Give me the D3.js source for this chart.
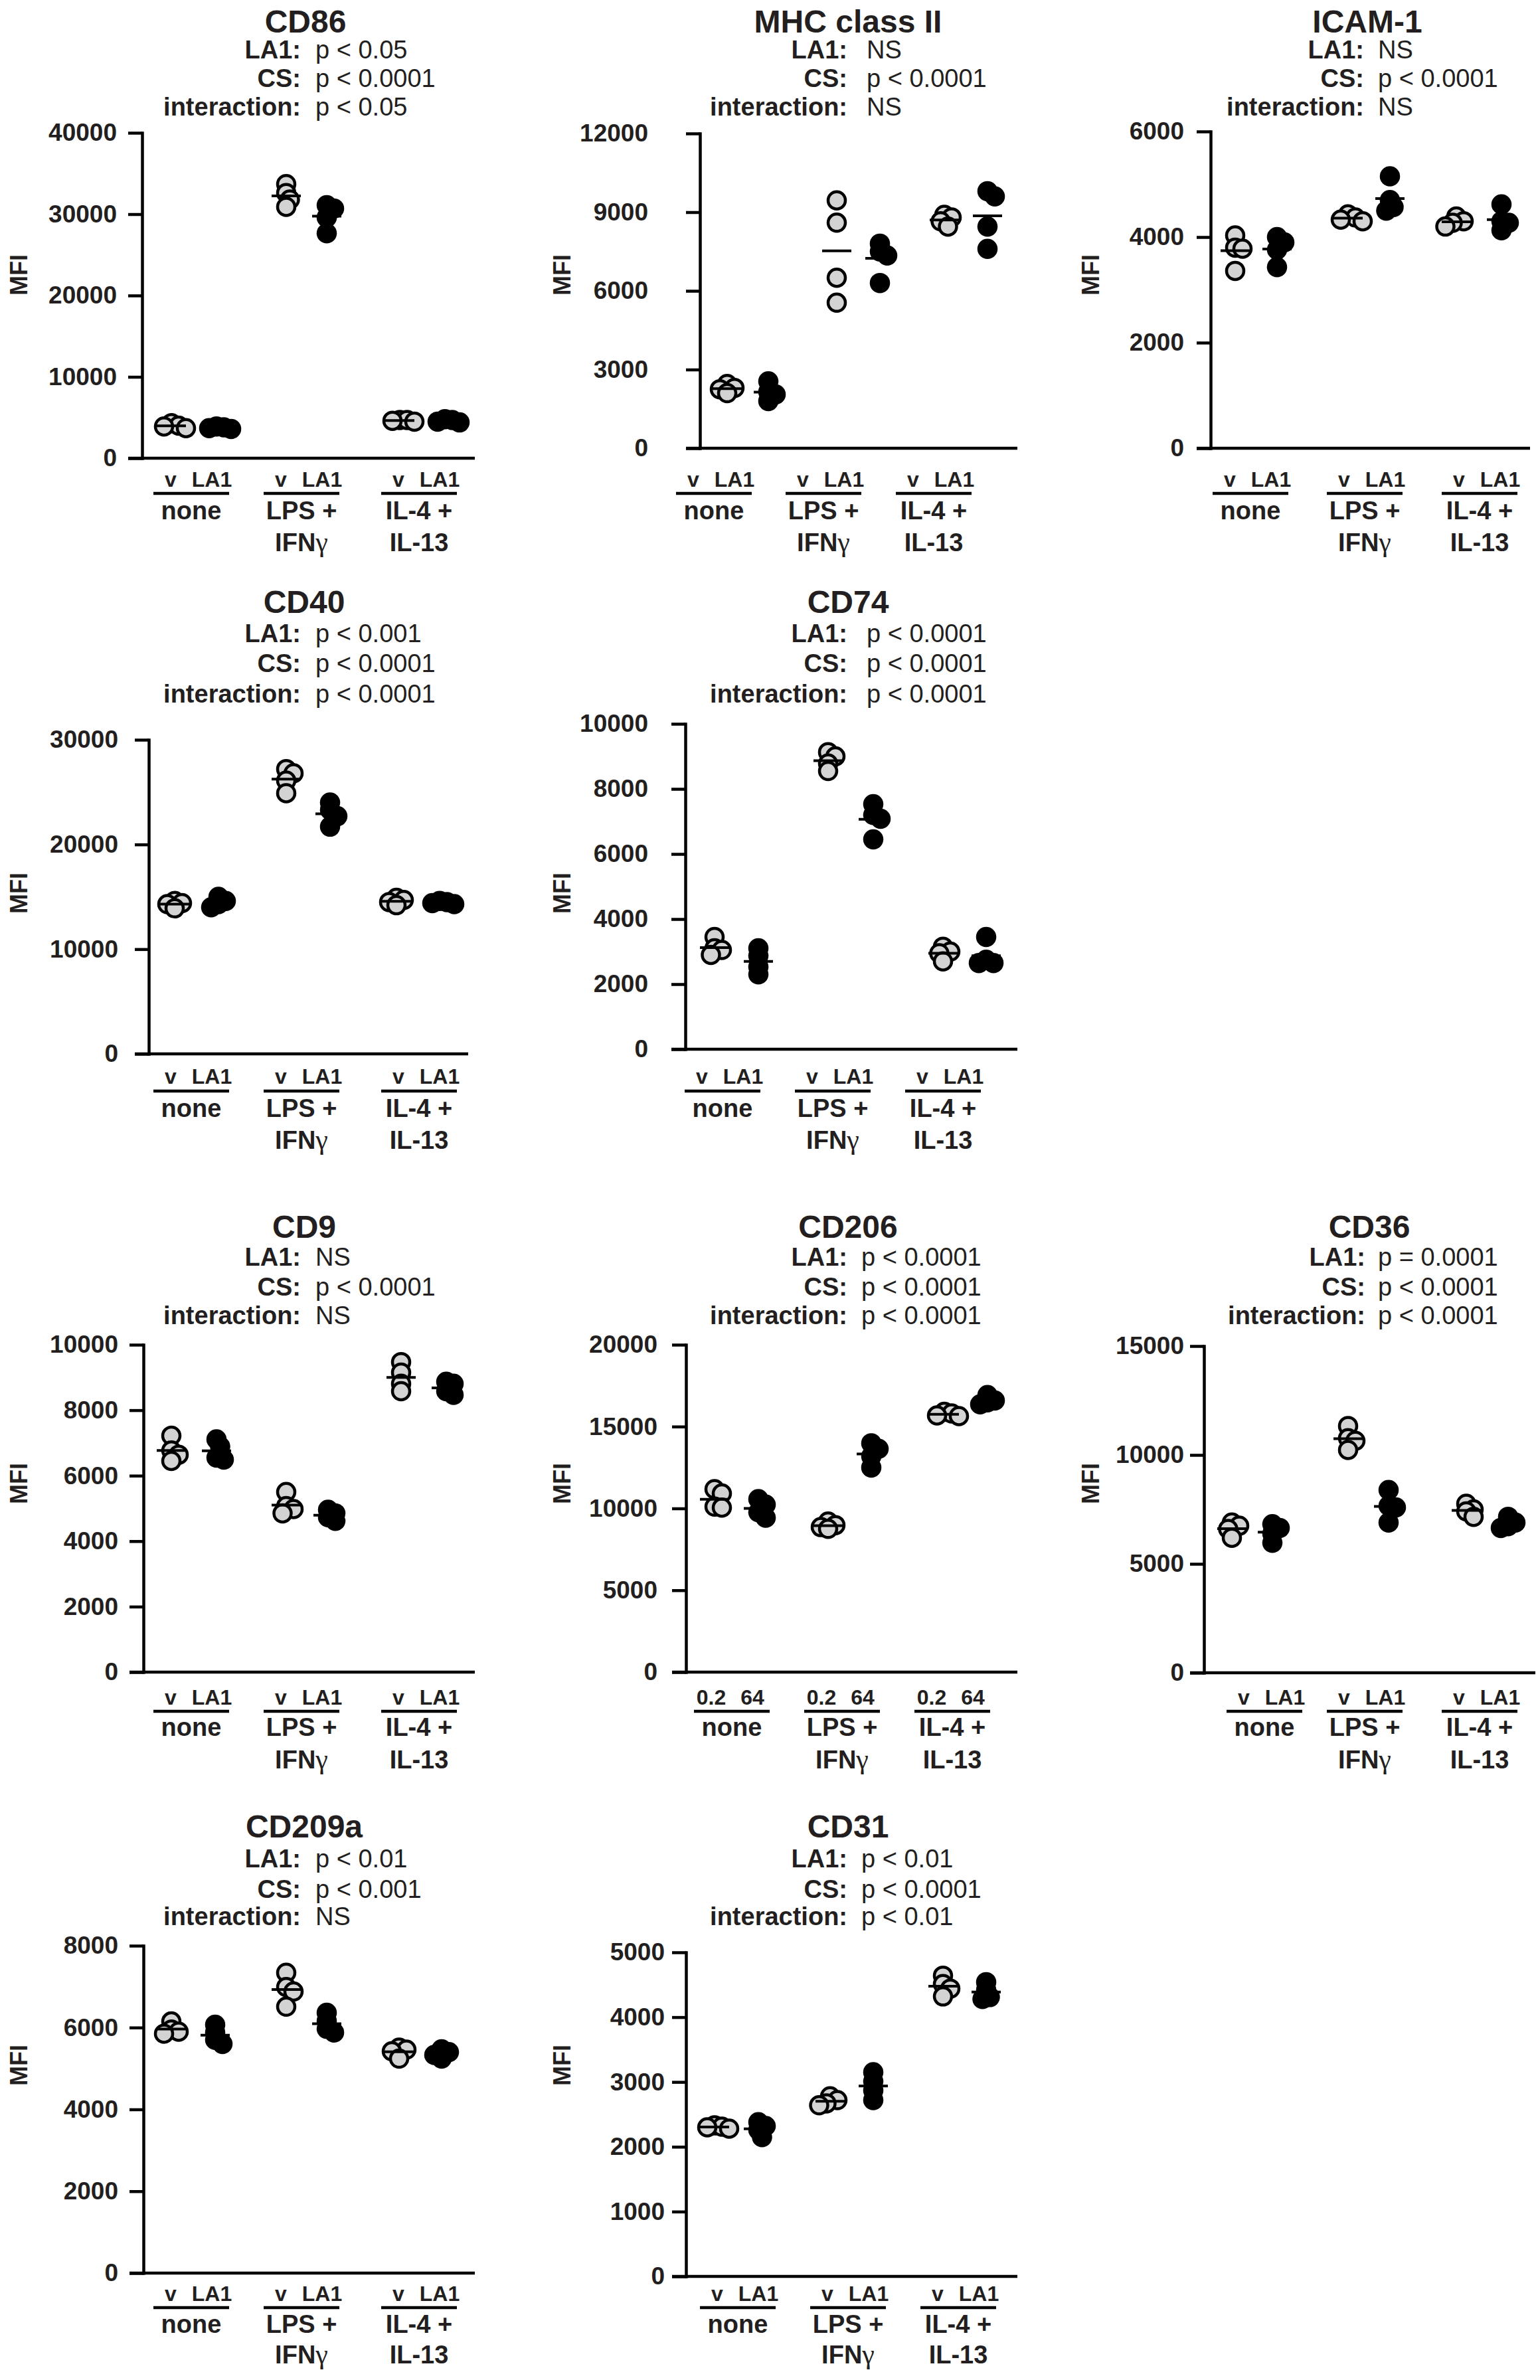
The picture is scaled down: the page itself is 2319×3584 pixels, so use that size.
<!DOCTYPE html>
<html><head><meta charset="utf-8">
<script src="https://cdn.jsdelivr.net/npm/d3@7"></script>
<style>
body{margin:0;background:#fff}
svg text{font-family:"Liberation Sans",Arial,Helvetica,sans-serif;fill:#231f20}
</style>
</head><body>
<svg id="chart" width="2319" height="3584"></svg>
<script>
// ---------------- DATA ----------------
const markers = ["CD86","MHC class II","ICAM-1","CD40","CD74","CD9","CD206","CD36","CD209a","CD31"];
const conditionLabels = [["none"],["LPS +","IFN","γ"],["IL-4 +","IL-13"]];
const treatmentLabels = ["v","LA1"];
const treatmentLabelsCD206 = ["0.2","64"];

const la1P   = ["p < 0.05","NS","NS","p < 0.001","p < 0.0001","NS","p < 0.0001","p = 0.0001","p < 0.01","p < 0.01"];
const csP    = ["p < 0.0001","p < 0.0001","p < 0.0001","p < 0.0001","p < 0.0001","p < 0.0001","p < 0.0001","p < 0.0001","p < 0.001","p < 0.0001"];
const interP = ["p < 0.05","NS","NS","p < 0.0001","p < 0.0001","NS","p < 0.0001","p < 0.0001","NS","p < 0.01"];

// each array: [none, LPS + IFNγ, IL-4 + IL-13], four replicates each
const cd86Vehicle  = [[3700,4300,4000,3900],[30900,31800,32600,33700],[4500,4600,4700,4700]];
const cd86LA1      = [[3600,3700,3800,3900],[27650,29600,30700,31100],[4400,4500,4700,4800]];
const mhcVehicle   = [[2100,2250,2300,2450],[5550,6500,8600,9450],[8450,8650,8800,8900]];
const mhcLA1       = [[1800,2050,2150,2550],[6300,7350,7500,7800],[7600,8450,9600,9800]];
const icamVehicle  = [[3360,3780,3800,4030],[4300,4330,4370,4430],[4200,4270,4300,4390]];
const icamLA1      = [[3430,3760,3900,4000],[4500,4570,4700,5150],[4130,4270,4300,4620]];
const cd40Vehicle  = [[13900,14300,14400,14600],[24900,26100,26800,27200],[14200,14500,14700,14900]];
const cd40LA1      = [[14000,14300,14600,15000],[21700,22700,23300,24000],[14300,14400,14500,14600]];
const cd74Vehicle  = [[2900,3050,3100,3450],[8550,8780,9000,9130],[2700,2950,3000,3150]];
const cd74LA1      = [[2300,2530,2870,3100],[6450,7080,7200,7530],[2650,2650,2750,3450]];
const cd9Vehicle   = [[6450,6640,6770,7220],[4850,4980,5070,5500],[8580,8810,9150,9470]];
const cd9LA1       = [[6490,6550,6890,7110],[4620,4730,4850,4960],[8470,8580,8810,8870]];
const cd206Low     = [[10050,10110,10910,11180],[8750,8860,8980,9200],[15640,15680,15800,15900]];
const cd206High    = [[9430,9770,10230,10570],[12500,13180,13640,13980],[16360,16480,16590,16930]];
const cd36Vehicle  = [[6200,6600,6750,6900],[10230,10650,10770,11330],[7160,7410,7500,7760]];
const cd36LA1      = [[5970,6390,6650,6820],[6900,7590,7670,8390],[6650,6730,6900,7160]];
const cd209Vehicle = [[5850,5900,5950,6150],[6510,6880,6990,7340],[5240,5420,5460,5510]];
const cd209LA1     = [[5600,5700,5880,6070],[5880,5970,6160,6360],[5240,5330,5400,5470]];
const cd31Vehicle  = [[2280,2300,2310,2330],[2640,2670,2720,2780],[4320,4440,4510,4640]];
const cd31LA1      = [[2150,2260,2320,2380],[2720,2870,3010,3150],[4280,4310,4420,4540]];

const ticksCD86  = [0,10000,20000,30000,40000];
const ticksMHC   = [0,3000,6000,9000,12000];
const ticksICAM  = [0,2000,4000,6000];
const ticksCD40  = [0,10000,20000,30000];
const ticksCD74  = [0,2000,4000,6000,8000,10000];
const ticksCD9   = [0,2000,4000,6000,8000,10000];
const ticksCD206 = [0,5000,10000,15000,20000];
const ticksCD36  = [0,5000,10000,15000];
const ticksCD209 = [0,2000,4000,6000,8000];
const ticksCD31  = [0,1000,2000,3000,4000,5000];

const greyData  = [cd86Vehicle,mhcVehicle,icamVehicle,cd40Vehicle,cd74Vehicle,cd9Vehicle,cd206Low,cd36Vehicle,cd209Vehicle,cd31Vehicle];
const blackData = [cd86LA1,mhcLA1,icamLA1,cd40LA1,cd74LA1,cd9LA1,cd206High,cd36LA1,cd209LA1,cd31LA1];
const tickSets  = [ticksCD86,ticksMHC,ticksICAM,ticksCD40,ticksCD74,ticksCD9,ticksCD206,ticksCD36,ticksCD209,ticksCD31];

// ---------------- LAYOUT ----------------
const rows = [
  {titleY:49,  statY:[88,131,174],    mfiY:414,  labY:[733,743,782,830]},
  {titleY:923, statY:[967,1012,1058], mfiY:1345, labY:[1632,1643,1682,1730]},
  {titleY:1864,statY:[1906,1951,1994],mfiY:2234, labY:[2567,2577,2614,2663]},
  {titleY:2767,statY:[2812,2858,2899],mfiY:3110, labY:[3465,3475,3513,3559]}
];
const layout = [
  {row:0, ax:214, xEnd:715, top:200, zero:690, cols:[258,326,431,492,602,670], groups:[288,454,631], pad:38, titleX:460, colonX:453, valX:475, mfiX:29},
  {row:0, ax:1054,xEnd:1532,top:201, zero:675, cols:[1095,1157,1260,1325,1422,1487], groups:[1075,1240,1406], pad:78, titleX:1277, colonX:1276, valX:1305, mfiX:847},
  {row:0, ax:1823,xEnd:2304,top:198, zero:675, cols:[1860,1923,2030,2093,2193,2261], groups:[1883,2055,2228], pad:40, titleX:2059, colonX:2054, valX:2075, mfiX:1643},
  {row:1, ax:224, xEnd:705, top:1114,zero:1587,cols:[263,329,431,497,597,662], groups:[288,454,631], pad:46, titleX:458, colonX:453, valX:475, mfiX:29},
  {row:1, ax:1032,xEnd:1532,top:1090,zero:1580,cols:[1076,1142,1247,1315,1420,1485], groups:[1088,1254,1420], pad:56, titleX:1277, colonX:1276, valX:1305, mfiX:847},
  {row:2, ax:216, xEnd:715, top:2025,zero:2518,cols:[258,326,431,494,604,672], groups:[288,454,631], pad:38, titleX:458, colonX:453, valX:475, mfiX:29},
  {row:2, ax:1033,xEnd:1532,top:2025,zero:2518,cols:[1076,1142,1247,1312,1422,1487], groups:[1102,1268,1434], pad:43, titleX:1277, colonX:1276, valX:1297, mfiX:847},
  {row:2, ax:1813,xEnd:2312,top:2027,zero:2519,cols:[1855,1916,2030,2091,2208,2271], groups:[1904,2055,2228], pad:30, titleX:2062, colonX:2056, valX:2075, mfiX:1643},
  {row:3, ax:216, xEnd:715, top:2930,zero:3423,cols:[258,324,431,492,601,665], groups:[288,454,631], pad:38, titleX:458, colonX:453, valX:475, mfiX:29},
  {row:3, ax:1033,xEnd:1532,top:2940,zero:3428,cols:[1076,1142,1250,1315,1420,1485], groups:[1111,1277,1443], pad:32, titleX:1277, colonX:1276, valX:1297, mfiX:847}
];

const R = 13, SW = 4.5, INK = "#000";
const svg = d3.select("#chart");
svg.append("rect").attr("width",2319).attr("height",3584).attr("fill","#fff");

function swarm(vals, cx, y){
  const minD = 11, step = 5.5;
  const pts = vals.map(v=>({v, py:y(v)})).sort((a,b)=>a.py-b.py);
  const placed = [];
  for (const p of pts){
    for (const k of [0,1,-1,2,-2,3,-3,4,-4,5,-5]){
      const px = cx + k*step;
      if (placed.every(q=>Math.hypot(q.px-px, q.py-p.py) >= minD)){ p.px = px; break; }
    }
    if (p.px === undefined) p.px = cx;
    placed.push(p);
  }
  return placed;
}

markers.forEach((name, i)=>{
  const L = layout[i], RW = rows[L.row];
  const g = svg.append("g");
  const ticks = tickSets[i];
  const y = d3.scaleLinear().domain([0, d3.max(ticks)]).range([L.zero, L.top]);

  // title + stats
  g.append("text").attr("x",L.titleX).attr("y",RW.titleY).attr("text-anchor","middle")
    .attr("font-size",48).attr("font-weight","bold").text(name);
  const statLabels = ["LA1:","CS:","interaction:"];
  const statVals = [la1P[i], csP[i], interP[i]];
  statLabels.forEach((s,k)=>{
    g.append("text").attr("x",L.colonX).attr("y",RW.statY[k]).attr("text-anchor","end")
      .attr("font-size",38).attr("font-weight","bold").text(s);
    g.append("text").attr("x",L.valX).attr("y",RW.statY[k])
      .attr("font-size",38).text(statVals[k]);
  });

  // y axis
  const ax = g.append("g").attr("transform",`translate(${L.ax},0)`)
    .call(d3.axisLeft(y).tickValues(ticks).tickSize(21).tickPadding(L.pad-21).tickSizeOuter(0).tickFormat(d3.format("d")));
  ax.attr("font-family",null).attr("font-size",null);
  ax.select(".domain").attr("stroke",INK).attr("stroke-width",SW).attr("stroke-linecap","square");
  ax.selectAll(".tick line").attr("stroke",INK).attr("stroke-width",SW);
  ax.selectAll(".tick text").attr("font-size",37).attr("font-weight","bold").attr("fill","#231f20")
    .style("font-family",'"Liberation Sans",Arial,sans-serif');

  // x axis line
  g.append("line").attr("x1",L.ax-21).attr("x2",L.xEnd).attr("y1",y(0)).attr("y2",y(0))
    .attr("stroke",INK).attr("stroke-width",SW);

  // MFI
  g.append("text").attr("transform",`translate(${L.mfiX+12},${RW.mfiY}) rotate(-90)`)
    .attr("text-anchor","middle").attr("font-size",36).attr("font-weight","bold").text("MFI");

  // category labels
  const tl = name === "CD206" ? treatmentLabelsCD206 : treatmentLabels;
  conditionLabels.forEach((cl, c)=>{
    const gc = L.groups[c];
    g.append("text").attr("x",gc-31).attr("y",RW.labY[0]).attr("text-anchor","middle")
      .attr("font-size",32).attr("font-weight","bold").text(tl[0]);
    g.append("text").attr("x",gc+31).attr("y",RW.labY[0]).attr("text-anchor","middle")
      .attr("font-size",32).attr("font-weight","bold").text(tl[1]);
    g.append("line").attr("x1",gc-57).attr("x2",gc+57).attr("y1",RW.labY[1]).attr("y2",RW.labY[1])
      .attr("stroke",INK).attr("stroke-width",SW);
    g.append("text").attr("x",gc).attr("y",RW.labY[2]).attr("text-anchor","middle")
      .attr("font-size",38).attr("font-weight","bold").text(cl[0]);
    if (cl.length === 2){
      g.append("text").attr("x",gc).attr("y",RW.labY[3]).attr("text-anchor","middle")
        .attr("font-size",38).attr("font-weight","bold").text(cl[1]);
    } else if (cl.length === 3){
      const t = g.append("text").attr("x",gc).attr("y",RW.labY[3]).attr("text-anchor","middle")
        .attr("font-size",38).attr("font-weight","bold");
      t.append("tspan").text(cl[1]);
      t.append("tspan").attr("font-family",'"Liberation Serif",serif').attr("font-weight","normal")
        .attr("font-size",42).text(cl[2]);
    }
  });

  // points
  const sets = [greyData[i], blackData[i]];
  sets.forEach((set, t)=>{
    set.forEach((vals, c)=>{
      const cx = L.cols[c*2+t];
      const pts = swarm(vals, cx, y);
      g.selectAll(null).data(pts).enter().append("circle")
        .attr("cx",d=>d.px).attr("cy",d=>d.py)
        .attr("r", t===0 ? R : R+SW/2)
        .attr("fill", t===0 ? "#d3d3d3" : INK)
        .attr("stroke", t===0 ? INK : "none")
        .attr("stroke-width", SW);
    });
  });
  // mean lines
  sets.forEach((set, t)=>{
    set.forEach((vals, c)=>{
      const cx = L.cols[c*2+t], m = y(d3.mean(vals));
      g.append("line").attr("x1",cx-22).attr("x2",cx+22).attr("y1",m).attr("y2",m)
        .attr("stroke",INK).attr("stroke-width",4);
    });
  });
});
</script>
</body></html>
